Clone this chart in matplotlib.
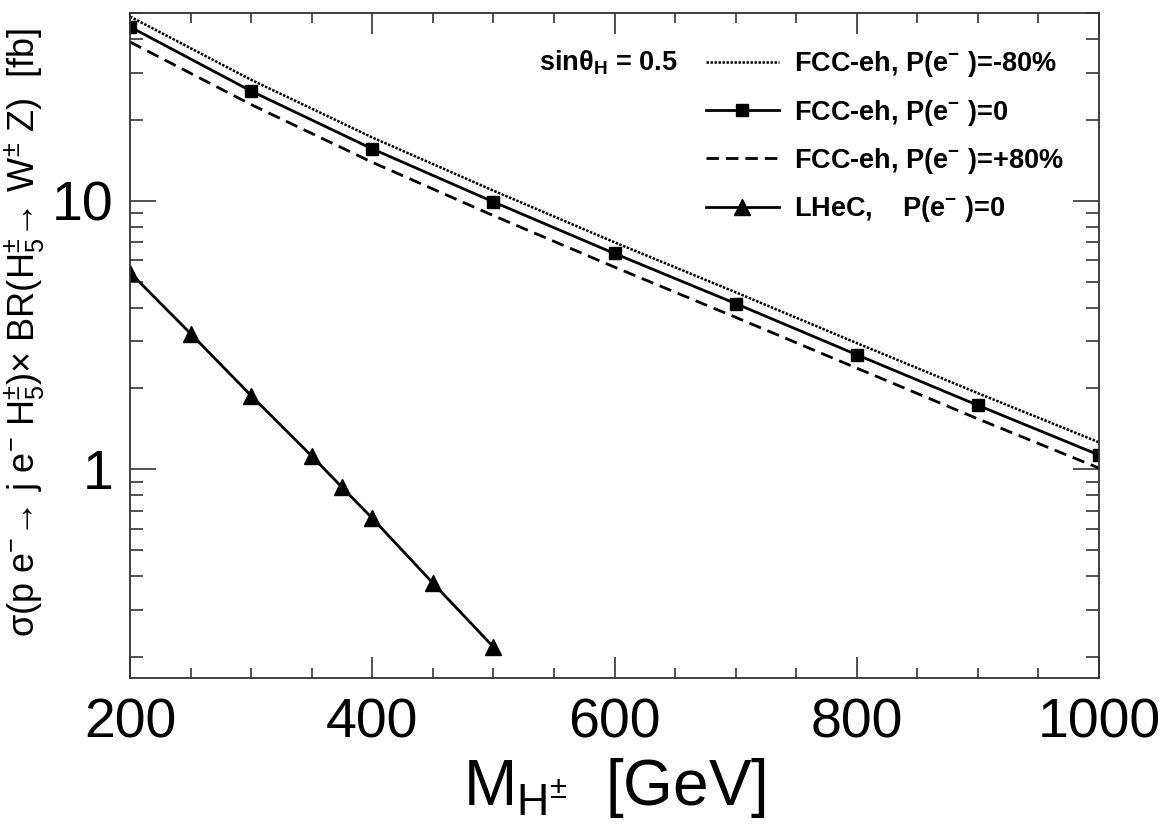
import matplotlib
matplotlib.use("Agg")
import matplotlib.pyplot as plt
from matplotlib.ticker import FixedLocator, LogLocator, NullFormatter, FuncFormatter

plt.rcParams['font.family'] = ['Liberation Sans', 'DejaVu Sans']
plt.rcParams['mathtext.default'] = 'regular'

# FCC-eh masses and cross sections [fb]
mass_fcc = [200, 300, 400, 500, 600, 700, 800, 900, 1000]
fcc_m80 = [48.5, 28.2, 17.2, 10.9, 7.0, 4.56, 2.95, 1.92, 1.26]
fcc_0 = [44.4, 25.6, 15.6, 9.9, 6.36, 4.14, 2.67, 1.73, 1.13]
fcc_p80 = [39.0, 22.8, 13.9, 8.8, 5.66, 3.68, 2.38, 1.54, 1.01]

# LHeC
mass_lhec = [200, 250, 300, 350, 375, 400, 450, 500]
lhec_0 = [5.4, 3.2, 1.88, 1.12, 0.857, 0.657, 0.377, 0.218]

fig = plt.figure(figsize=(11.62, 8.39), dpi=100)
ax = fig.add_axes([0.1119, 0.1919, 0.8339, 0.7926])

ax.plot(mass_fcc, fcc_m80, color='black', lw=1.8, ls=(0, (1, 0.6)),
        label='FCC-eh, P(e$^{-}$ )=-80%')
ax.plot(mass_fcc, fcc_0, color='black', lw=2.0, marker='s', ms=8.5,
        label='FCC-eh, P(e$^{-}$ )=0')
ax.plot(mass_fcc, fcc_p80, color='black', lw=2.0, ls=(0, (4.5, 2.5)),
        label='FCC-eh, P(e$^{-}$ )=+80%')
ax.plot(mass_lhec, lhec_0, color='black', lw=2.0, marker='^', ms=11,
        label='LHeC,    P(e$^{-}$ )=0')

ax.set_yscale('log')
ax.set_xlim(200, 1000)
ax.set_ylim(0.167, 50)

ax.xaxis.set_major_locator(FixedLocator([200, 400, 600, 800, 1000]))
ax.xaxis.set_minor_locator(FixedLocator(list(range(200, 1001, 50))))
ax.yaxis.set_major_locator(FixedLocator([1, 10]))
ax.yaxis.set_minor_locator(LogLocator(base=10, subs=range(2, 10)))
ax.yaxis.set_minor_formatter(NullFormatter())
ax.yaxis.set_major_formatter(FuncFormatter(lambda v, p: '%g' % v))

ax.tick_params(axis='both', which='both', direction='in', top=True, right=True,
               color='#333333', width=1.2)
ax.tick_params(axis='x', which='major', length=15, labelsize=40, pad=14)
ax.tick_params(axis='x', which='minor', length=7.5)
ax.tick_params(axis='y', which='major', length=19, labelsize=40, pad=12)
ax.tick_params(axis='y', which='minor', length=9.5)
for s in ax.spines.values():
    s.set_color('#333333')
    s.set_linewidth(1.3)

ax.set_xlabel('M$_{H^{±}}$  [GeV]', fontsize=46)
ax.xaxis.set_label_coords(0.5, -0.117)
ax.set_ylabel('σ(p e$^{-}$→ j e$^{-}$ H$^{±}_{5}$)× BR(H$^{±}_{5}$→ W$^{±}$ Z)  [fb]',
              fontsize=26)
ax.yaxis.set_label_coords(-0.086, 0.52)

leg = ax.legend(loc='upper left', bbox_to_anchor=(0.583, 0.962), frameon=False,
                prop={'size': 19.5, 'weight': 'bold'}, handlelength=2.7,
                handletextpad=0.55, labelspacing=0.68, borderaxespad=0)

ax.text(0.494, 0.925, 'sinθ$_{H}$ = 0.5', transform=ax.transAxes, fontsize=19.5,
        fontweight='bold', ha='center', va='center')

fig.savefig('out.png', dpi=100)
